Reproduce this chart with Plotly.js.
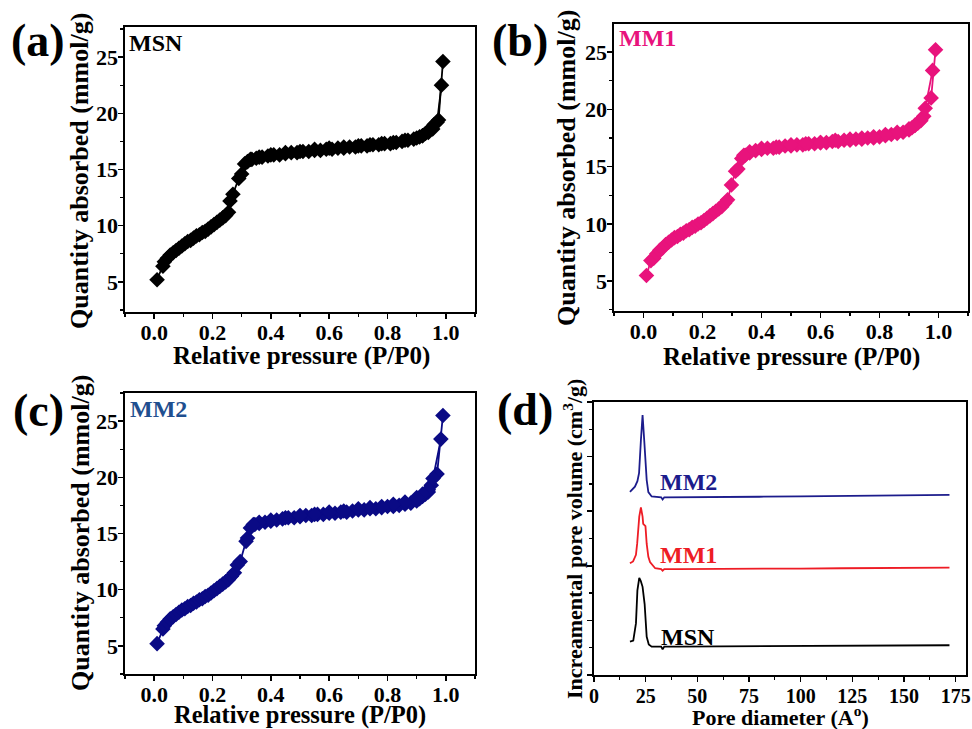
<!DOCTYPE html>
<html><head><meta charset="utf-8">
<script src="https://cdn.plot.ly/plotly-3.0.1.min.js"></script>
<style>html,body{margin:0;padding:0;background:#fff}#chart{width:972px;height:729px}</style>
</head><body><div id="chart"></div>
<script>
// ---------- (a) MSN isotherm ----------
const msnP = [0.01,0.03,0.035,0.045,0.055,0.065,0.075,0.085,0.095,0.105,
  0.115,0.125,0.135,0.145,0.155,0.165,0.175,0.185,0.195,0.205,
  0.215,0.225,0.235,0.245,0.255,0.26,0.27,0.29,0.30,0.31,
  0.32,0.335,0.35,0.37,0.39,0.41,0.43,0.45,0.47,0.49,
  0.51,0.53,0.55,0.57,0.59,0.61,0.63,0.65,0.67,0.69,
  0.71,0.73,0.75,0.77,0.79,0.81,0.83,0.85,0.87,0.89,
  0.91,0.92,0.93,0.94,0.95,0.96,0.975,0.99];
const msnQ = [5.2,6.4,6.8,7.1,7.4,7.6,7.8,8.0,8.2,8.4,
  8.6,8.7,8.9,9.1,9.2,9.4,9.5,9.7,9.9,10.1,
  10.3,10.5,10.7,10.9,11.2,12.2,12.8,14.2,14.6,15.5,
  15.7,15.9,16.0,16.1,16.2,16.3,16.3,16.4,16.5,16.5,
  16.6,16.6,16.7,16.7,16.8,16.8,16.9,16.9,17.0,17.0,
  17.1,17.1,17.2,17.2,17.3,17.3,17.4,17.5,17.6,17.7,
  17.9,18.0,18.2,18.4,18.7,19.0,19.4,24.6];
const msnDesP = [0.985,0.97,0.955,0.94,0.92,0.90,0.86,0.82,0.78,0.74,0.70,0.65,0.60,0.55,0.50,0.45,0.40,0.36,0.33];
const msnDesQ = [22.5,19.2,18.6,18.3,18.0,17.8,17.6,17.4,17.3,17.2,17.1,17.0,16.9,16.8,16.6,16.5,16.3,16.1,15.9];

// ---------- (b) MM1 isotherm ----------
const mm1P = [0.01,0.025,0.035,0.045,0.055,0.065,0.075,0.085,0.095,0.105,
  0.115,0.125,0.135,0.145,0.155,0.165,0.175,0.185,0.195,0.205,
  0.215,0.225,0.235,0.245,0.255,0.265,0.275,0.285,0.298,0.312,
  0.32,0.333,0.345,0.36,0.38,0.40,0.42,0.44,0.46,0.48,
  0.50,0.52,0.54,0.56,0.58,0.60,0.62,0.64,0.66,0.68,
  0.70,0.72,0.74,0.76,0.78,0.80,0.82,0.84,0.86,0.88,
  0.90,0.91,0.92,0.93,0.94,0.95,0.975,0.99];
const mm1Q = [5.5,6.8,7.0,7.4,7.7,7.9,8.2,8.4,8.6,8.8,
  8.9,9.1,9.2,9.4,9.5,9.7,9.8,10.0,10.1,10.3,
  10.5,10.7,10.9,11.1,11.3,11.5,11.8,12.1,13.4,14.6,
  14.8,15.7,16.0,16.2,16.4,16.5,16.6,16.6,16.7,16.8,
  16.8,16.9,16.9,17.0,17.0,17.1,17.1,17.2,17.2,17.3,
  17.3,17.4,17.4,17.5,17.5,17.6,17.7,17.8,17.9,18.0,
  18.2,18.4,18.6,18.8,19.1,19.4,21.0,25.2];
const mm1DesP = [0.98,0.955,0.94,0.92,0.90,0.86,0.82,0.78,0.74,0.70,0.65,0.60,0.55,0.50,0.45,0.40,0.36,0.34];
const mm1DesQ = [23.4,20.1,19.0,18.6,18.3,18.0,17.8,17.6,17.5,17.4,17.3,17.1,17.0,16.9,16.7,16.6,16.3,16.0];

// ---------- (c) MM2 isotherm ----------
const mm2P = [0.01,0.03,0.035,0.045,0.055,0.065,0.075,0.085,0.095,0.105,
  0.115,0.125,0.135,0.145,0.155,0.165,0.175,0.185,0.195,0.205,
  0.215,0.225,0.235,0.245,0.255,0.265,0.275,0.285,0.295,0.315,
  0.32,0.33,0.345,0.36,0.38,0.40,0.42,0.44,0.46,0.48,
  0.50,0.52,0.54,0.56,0.58,0.60,0.62,0.64,0.66,0.68,
  0.70,0.72,0.74,0.76,0.78,0.80,0.82,0.84,0.86,0.88,
  0.90,0.91,0.92,0.93,0.94,0.95,0.97,0.99];
const mm2Q = [5.2,6.5,6.8,7.1,7.4,7.6,7.8,8.0,8.2,8.3,
  8.5,8.6,8.8,8.9,9.1,9.2,9.4,9.5,9.7,9.9,
  10.1,10.3,10.5,10.7,10.9,11.2,11.5,12.2,12.5,14.3,
  14.6,15.5,15.8,15.9,16.0,16.1,16.2,16.3,16.4,16.4,
  16.5,16.6,16.6,16.7,16.7,16.8,16.8,16.9,16.9,17.0,
  17.1,17.1,17.2,17.2,17.3,17.4,17.4,17.5,17.6,17.7,
  17.9,18.1,18.3,18.5,18.7,19.3,20.3,25.5];
const mm2DesP = [0.983,0.956,0.94,0.92,0.90,0.86,0.82,0.78,0.74,0.70,0.65,0.60,0.55,0.50,0.45,0.40,0.36,0.34];
const mm2DesQ = [23.4,19.9,18.9,18.5,18.2,17.8,17.6,17.4,17.3,17.2,17.0,16.9,16.7,16.6,16.4,16.2,16.0,15.8];

// ---------- (d) pore size distributions (offset, arbitrary units) ----------
const poreMsnD = [17.4,19.0,20.3,21.0,21.9,22.6,23.5,24.5,25.5,26.5,27.9,30,32.5,33.2,34,40,60,80,100,120,140,160,172];
const poreMsnV = [12.2,12.6,18.9,31,35.6,34.5,32.3,26,14,11.2,10.4,10.4,10.4,9.4,10.4,10.4,10.5,10.5,10.6,10.7,10.8,10.9,10.9];
const poreMm1D = [17.4,18.9,20.3,20.9,21.9,22.7,23.5,23.8,24.9,25.5,26.3,27.1,29.6,32.5,33.2,34,40,60,80,100,120,140,160,172];
const poreMm1V = [40.9,41.6,44,48.2,58,61.4,58,55.4,54.5,48,43.3,41.4,39.1,38.8,38.2,38.8,38.8,38.8,38.9,39.0,39.1,39.2,39.3,39.3];
const poreMm2D = [17.4,19.8,21.0,21.8,22.7,23.5,24.3,25.0,25.5,26.3,27.9,32.5,33.2,34,40,60,80,100,120,140,160,172];
const poreMm2V = [67.1,69,71,73.9,86,95.2,86,76,71.4,67,65.4,65.1,64.3,65.1,65.1,65.2,65.3,65.4,65.6,65.7,65.9,66.0];

const names = ['MSN','MM1','MM2'];
const isoColors = ['#000000','#e8137c','#0a0a85'];
const labelColors = ['#000000','#e8137c','#1f4f8f'];
const poreColors = ['#000000','#ee1c25','#1c1c8c'];
const xTitleIso = 'Relative pressure (P/P0)';
const yTitleIso = 'Quantity absorbed (mmol/g)';
const xTitlePore = 'Pore diameter (A<sup>o</sup>)';
const yTitlePore = 'Increamental pore volume (cm<sup>3</sup>/g)';

const W = 972, H = 729;
const px = v => v / W, py = v => 1 - v / H;
const FONT = 'Liberation Serif';

function isoTrace(x, y, c, xa, ya) {
  return {x, y, xaxis: xa, yaxis: ya, type: 'scatter', mode: 'lines+markers',
    line: {color: c, width: 1.8}, marker: {symbol: 'diamond', size: 12, color: c},
    showlegend: false, hoverinfo: 'skip'};
}
function poreTrace(x, y, c) {
  return {x, y, xaxis: 'x4', yaxis: 'y4', type: 'scatter', mode: 'lines',
    line: {color: c, width: 1.8}, showlegend: false, hoverinfo: 'skip'};
}

const data = [
  isoTrace(msnP, msnQ, isoColors[0], 'x', 'y'),
  isoTrace(msnDesP, msnDesQ, isoColors[0], 'x', 'y'),
  isoTrace(mm1P, mm1Q, isoColors[1], 'x2', 'y2'),
  isoTrace(mm1DesP, mm1DesQ, isoColors[1], 'x2', 'y2'),
  isoTrace(mm2P, mm2Q, isoColors[2], 'x3', 'y3'),
  isoTrace(mm2DesP, mm2DesQ, isoColors[2], 'x3', 'y3'),
  poreTrace(poreMsnD, poreMsnV, poreColors[0]),
  poreTrace(poreMm1D, poreMm1V, poreColors[1]),
  poreTrace(poreMm2D, poreMm2V, poreColors[2])
];

function axis(o, fs) {
  return Object.assign({
    showline: true, mirror: true, linecolor: '#000', linewidth: 1.6,
    ticks: 'outside', ticklen: 5, tickwidth: 1.5, tickcolor: '#000',
    showgrid: false, zeroline: false, fixedrange: true, ticklabelstandoff: -5,
    tickfont: {family: FONT, size: fs || 22, weight: 'bold', color: '#000'}
  }, o);
}
const minorIso = (d) => ({ticks: 'outside', ticklen: 3, dtick: d, tickwidth: 1.2, tickcolor: '#000'});

const layout = {
  width: W, height: H, margin: {l: 0, r: 0, t: 0, b: 0},
  paper_bgcolor: '#fff', plot_bgcolor: '#fff',
  xaxis: axis({domain: [px(125), px(475)], anchor: 'y', range: [-0.1, 1.1], dtick: 0.2, tickformat: '.1f', minor: minorIso(0.1)}),
  yaxis: axis({domain: [py(312), py(27)], anchor: 'x', range: [2.33, 27.67], dtick: 5, minor: minorIso(2.5), ticklabelstandoff: -4}),
  xaxis2: axis({domain: [px(614), px(968)], anchor: 'y2', range: [-0.1, 1.1], dtick: 0.2, tickformat: '.1f', minor: minorIso(0.1)}),
  yaxis2: axis({domain: [py(311), py(24)], anchor: 'x2', range: [2.4, 27.45], dtick: 5, minor: minorIso(2.5), ticklabelstandoff: -4}),
  xaxis3: axis({domain: [px(125), px(475)], anchor: 'y3', range: [-0.1, 1.1], dtick: 0.2, tickformat: '.1f', minor: minorIso(0.1)}),
  yaxis3: axis({domain: [py(674), py(393)], anchor: 'x3', range: [2.5, 27.5], dtick: 5, minor: minorIso(2.5), ticklabelstandoff: -4}),
  xaxis4: axis({domain: [px(594), px(966)], anchor: 'y4', range: [0, 180], dtick: 25, minor: minorIso(12.5), ticklabelstandoff: -3}, 20),
  yaxis4: axis({domain: [py(675), py(402)], anchor: 'x4', range: [0, 100], dtick: 20, showticklabels: false, minor: minorIso(10)}),
  annotations: []
};

function ann(text, x, y, size, color, xanchor, extra) {
  return Object.assign({text, xref: 'paper', yref: 'paper', x: px(x), y: py(y), xanchor: xanchor || 'center',
    yanchor: 'middle', showarrow: false, font: {family: FONT, size, weight: 'bold', color}}, extra || {});
}
// axis titles
layout.annotations.push(ann(xTitleIso, 301, 356, 25, '#000'));
layout.annotations.push(ann(xTitleIso, 791, 357, 25, '#000'));
layout.annotations.push(ann(xTitleIso, 300, 715, 24.5, '#000'));
layout.annotations.push(ann(xTitlePore, 780, 716, 22, '#000'));
layout.annotations.push(ann(yTitleIso, 80, 171, 26, '#000', 'center', {textangle: -90}));
layout.annotations.push(ann(yTitleIso, 566, 168, 26, '#000', 'center', {textangle: -90}));
layout.annotations.push(ann(yTitleIso, 80, 533, 26, '#000', 'center', {textangle: -90}));
layout.annotations.push(ann(yTitlePore, 573, 539, 22, '#000', 'center', {textangle: -90}));
// panel letters
layout.annotations.push(ann('(a)', 38, 40, 46, '#000'));
layout.annotations.push(ann('(b)', 520, 40, 46, '#000'));
layout.annotations.push(ann('(c)', 38, 410, 46, '#000'));
layout.annotations.push(ann('(d)', 525, 409, 46, '#000'));
// sample names inside isotherm panels
layout.annotations.push(ann(names[0], 127, 43, 24, labelColors[0], 'left'));
layout.annotations.push(ann(names[1], 617, 38, 24, labelColors[1], 'left'));
layout.annotations.push(ann(names[2], 128, 409, 24, labelColors[2], 'left'));
// labels in pore size panel (data coordinates)
const poreLabelY = [14, 44, 70.7];
for (let i = 0; i < 3; i++) {
  layout.annotations.push({text: names[i], xref: 'x4', yref: 'y4', x: 45.5, y: poreLabelY[i], xanchor: 'center',
    yanchor: 'middle', showarrow: false, font: {family: FONT, size: 24, weight: 'bold', color: poreColors[i]}});
}

Plotly.newPlot('chart', data, layout, {displayModeBar: false, staticPlot: true});
</script></body></html>
